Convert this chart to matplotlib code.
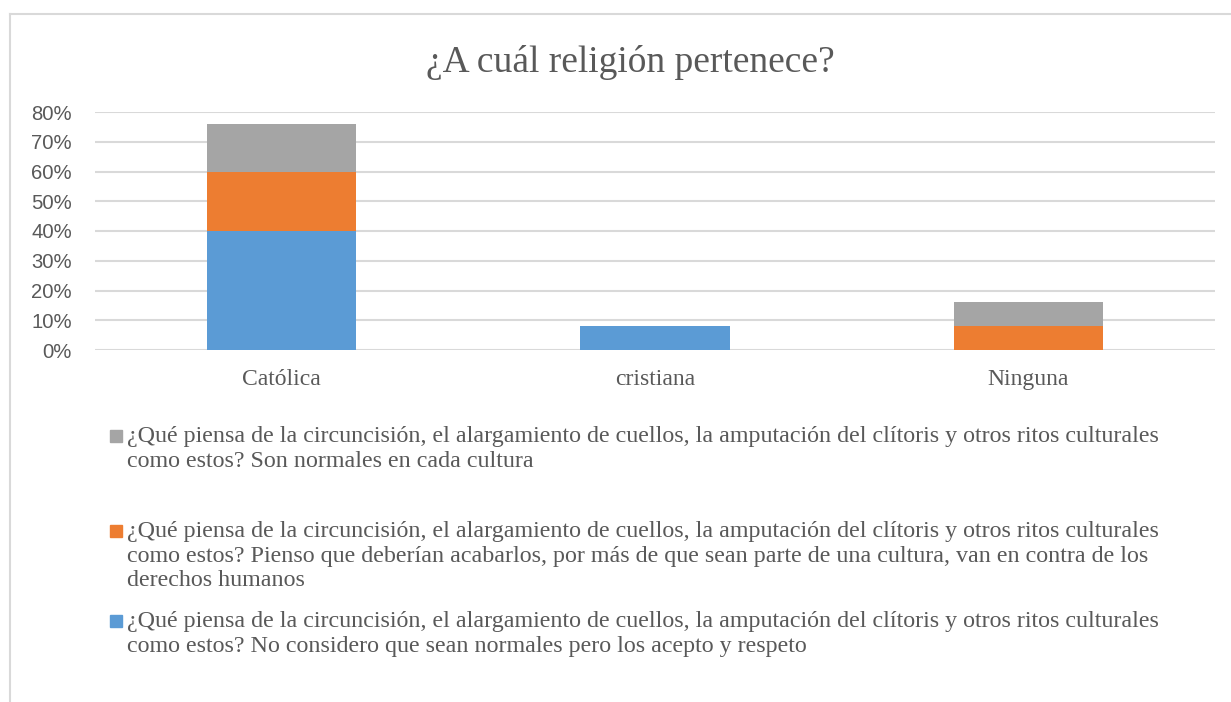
import matplotlib
matplotlib.use("Agg")
import matplotlib.pyplot as plt
from matplotlib.lines import Line2D
from matplotlib.patches import Rectangle
from matplotlib.ticker import PercentFormatter

categories = ["Católica", "cristiana", "Ninguna"]
no_normales = [0.40, 0.08, 0.0]
acabarlos = [0.20, 0.0, 0.08]
normales = [0.16, 0.0, 0.08]

legend_texts = [
    "¿Qué piensa de la circuncisión, el alargamiento de cuellos, la amputación del clítoris y otros ritos culturales\n"
    "como estos? Son normales en cada cultura",
    "¿Qué piensa de la circuncisión, el alargamiento de cuellos, la amputación del clítoris y otros ritos culturales\n"
    "como estos? Pienso que deberían acabarlos, por más de que sean parte de una cultura, van en contra de los\n"
    "derechos humanos",
    "¿Qué piensa de la circuncisión, el alargamiento de cuellos, la amputación del clítoris y otros ritos culturales\n"
    "como estos? No considero que sean normales pero los acepto y respeto",
]

blue = "#5b9bd5"
orange = "#ed7d31"
gray = "#a5a5a5"
txt = "#595959"
grid = "#d9d9d9"
serif = "Liberation Serif"

W, H = 1231, 702
fig = plt.figure(figsize=(W / 100, H / 100), dpi=100)
ax = fig.add_axes([95 / W, 1 - 350 / H, 1120 / W, 238 / H])

x = range(len(categories))
bw = 0.4
ax.bar(x, no_normales, width=bw, color=blue, zorder=3)
ax.bar(x, acabarlos, width=bw, bottom=no_normales, color=orange, zorder=3)
bottom2 = [a + b for a, b in zip(no_normales, acabarlos)]
ax.bar(x, normales, width=bw, bottom=bottom2, color=gray, zorder=3)

ax.set_xlim(-0.5, 2.5)
ax.set_ylim(0, 0.8)
ax.set_yticks([i / 10 for i in range(9)])
ax.yaxis.set_major_formatter(PercentFormatter(1.0, decimals=0))
ax.grid(axis="y", color=grid, linewidth=1.5, zorder=0)
for s in ax.spines.values():
    s.set_visible(False)
ax.tick_params(axis="both", length=0)
ax.tick_params(axis="y", labelsize=14.6, labelcolor=txt, pad=16.5)
for lab in ax.get_yticklabels():
    lab.set_fontfamily("Liberation Sans")
ax.set_xticks(list(x))
ax.set_xticklabels(categories, fontsize=17, color=txt, fontfamily=serif)
ax.tick_params(axis="x", pad=14)

fig.text(630 / W, 1 - 62 / H, "¿A cuál religión pertenece?", ha="center", va="center",
         fontsize=27, color=txt, fontfamily=serif)

# legend, drawn by hand (gray, orange, blue)
colors = [gray, orange, blue]
first_y = [436, 531, 621]
for c, t, y in zip(colors, legend_texts, first_y):
    fig.patches.append(Rectangle((110 / W, 1 - (y + 6) / H), 12 / W, 12 / H,
                                 transform=fig.transFigure, color=c))
    fig.text(127 / W, 1 - (y - 10) / H, t, ha="left", va="top", fontsize=17.3,
             color=txt, fontfamily=serif, linespacing=1.22)

# chart border
fig.add_artist(Line2D([10 / W, 1.0], [1 - 14 / H, 1 - 14 / H], color=grid, lw=1.5,
                      transform=fig.transFigure))
fig.add_artist(Line2D([10 / W, 10 / W], [0, 1 - 14 / H], color=grid, lw=1.5,
                      transform=fig.transFigure))

fig.savefig("out.png", dpi=100)
